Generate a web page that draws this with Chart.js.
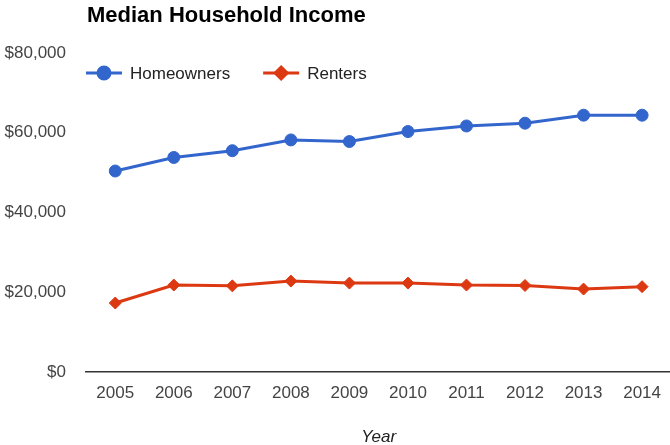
<!DOCTYPE html>
<html lang="en">
<head>
<meta charset="utf-8">
<title>Median Household Income</title>
<script src="https://cdn.jsdelivr.net/npm/chart.js@4.4.0/dist/chart.umd.min.js"></script>
<style>
    html, body { margin: 0; padding: 0; background: #fff; overflow: hidden; }
    #wrap { width: 672px; height: 445px; }
</style>
</head>
<body>
<div id="wrap"><canvas id="income-chart" width="672" height="445"></canvas></div>
<script>
// Median household income by year
const years = ['2005', '2006', '2007', '2008', '2009', '2010', '2011', '2012', '2013', '2014'];
const homeowners = [50400, 53800, 55500, 58200, 57800, 60300, 61700, 62400, 64400, 64400];
const renters = [17300, 21800, 21600, 22800, 22300, 22300, 21800, 21700, 20800, 21400];
const yTicks = [0, 20000, 40000, 60000, 80000];

const BLUE = '#3366cc';
const RED = '#dc3912';
const FONT = '"Liberation Sans", Arial, sans-serif';

document.addEventListener('DOMContentLoaded', () => {
    const ctx = document.getElementById('income-chart').getContext('2d');

    // Title and legend sit over the plot, so they are drawn by hand
    const overlay = {
        id: 'overlay',
        afterDatasetsDraw(chart) {
            const c = chart.ctx;
            const left = chart.chartArea.left;
            c.save();

            c.fillStyle = '#000';
            c.font = 'bold 22px ' + FONT;
            c.textBaseline = 'alphabetic';
            c.textAlign = 'left';
            c.fillText('Median Household Income', left + 1, 22);

            // Legend row: short line with the point style, then the label
            let x = left;
            const y = 73;
            c.font = '17px ' + FONT;
            c.textBaseline = 'middle';
            chart.data.datasets.forEach(ds => {
                c.strokeStyle = ds.borderColor;
                c.lineWidth = 3;
                c.beginPath();
                c.moveTo(x, y);
                c.lineTo(x + 36, y);
                c.stroke();
                Chart.helpers.drawPoint(c, {
                    pointStyle: ds.pointStyle,
                    radius: ds.pointRadius,
                    borderWidth: 1
                }, x + 18, y);
                c.fillStyle = ds.borderColor;
                c.fill();
                c.fillStyle = '#222';
                c.fillText(ds.label, x + 44, y + 1);
                x += 44 + c.measureText(ds.label).width + 33;
            });
            c.restore();
        }
    };

    new Chart(ctx, {
        type: 'line',
        data: {
            labels: years,
            datasets: [{
                label: 'Homeowners',
                data: homeowners,
                borderColor: BLUE,
                backgroundColor: BLUE,
                pointBackgroundColor: BLUE,
                pointBorderColor: BLUE,
                borderWidth: 3,
                pointStyle: 'circle',
                pointRadius: 6,
                pointBorderWidth: 1,
                tension: 0
            }, {
                label: 'Renters',
                data: renters,
                borderColor: RED,
                backgroundColor: RED,
                pointBackgroundColor: RED,
                pointBorderColor: RED,
                borderWidth: 3,
                pointStyle: 'rectRot',
                pointRadius: 6,
                pointBorderWidth: 1,
                tension: 0
            }]
        },
        options: {
            responsive: false,
            animation: false,
            layout: { autoPadding: false, padding: { top: 53, left: 0, right: 0, bottom: 0 } },
            plugins: {
                legend: { display: false },
                title: { display: false },
                tooltip: { enabled: false }
            },
            scales: {
                x: {
                    offset: true,
                    grid: { display: false, drawTicks: false },
                    border: { display: true, color: '#333', width: 1.5 },
                    afterFit: scale => { scale.height = 73; },
                    ticks: { color: '#444', font: { family: FONT, size: 17 }, padding: 11, maxRotation: 0 },
                    title: {
                        display: true,
                        text: 'Year',
                        color: '#222',
                        font: { family: FONT, size: 17, style: 'italic' },
                        padding: { top: 23, bottom: -2 }
                    }
                },
                y: {
                    min: 0,
                    max: 80000,
                    grid: { display: false, drawTicks: false },
                    border: { display: false },
                    afterBuildTicks: scale => {
                        scale.ticks = yTicks.map(v => ({ value: v }));
                    },
                    afterFit: scale => { scale.width = 86; },
                    ticks: {
                        color: '#444',
                        font: { family: FONT, size: 17 },
                        padding: 20,
                        callback: v => '$' + v.toLocaleString('en-US')
                    }
                }
            }
        },
        plugins: [overlay]
    });
});
</script>
</body>
</html>
